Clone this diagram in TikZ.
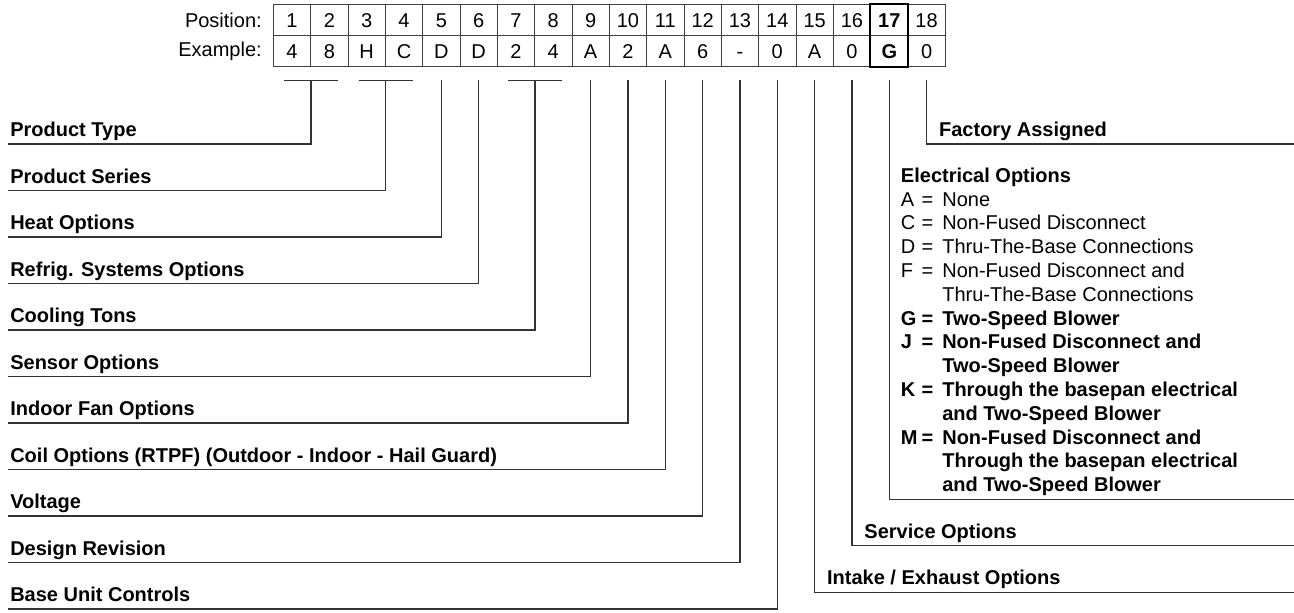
\documentclass[tikz,border=0pt]{standalone}
\usepackage{fontspec}
\setmainfont{Liberation Sans}
\usetikzlibrary{calc}
\newcommand{\codesize}{\fontsize{15pt}{17.85pt}\selectfont}
\begin{document}
\begin{tikzpicture}[x=0.75pt,y=-0.75pt,font=\codesize]
  \tikzstyle{cell}=[draw=black!75,line width=0.6pt,minimum width=28pt,minimum height=23.25pt,inner sep=0pt,text height=10.7pt,text depth=0pt]
  \tikzstyle{wire}=[draw=black!80,line width=0.9pt]
  \tikzstyle{lbl}=[anchor=south west,font=\codesize\bfseries,inner xsep=1.3pt,inner ysep=5.3pt,text depth=0pt]
  \tikzstyle{rlbl}=[lbl,inner xsep=9.2pt]
  \useasboundingbox (0,0) rectangle (1294,612);
  % model number table
  \node[anchor=east,inner xsep=0pt] (pos) at (262,20) {Position:};
  \node[anchor=east,inner xsep=0pt] (ex) at (262,51) {Example:};
  \foreach \c [count=\i] in {4,8,H,C,D,D,2,4,A,2,A,6,-,0,A,0,G,0} {
    \node[cell] (p\i) at (273.33+37.33*\i-18.67,20) {\ifnum\i=17\bfseries\fi\i};
    \node[cell] (e\i) at (273.33+37.33*\i-18.67,51) {\ifnum\i=17\bfseries\fi\c};
  }
  \draw[line width=1.6pt] (p17.north west) rectangle (e17.south east);
  % connector tops
  \foreach \i in {5,6,9,10,11,12,13,14,15,16,17,18}
    \coordinate (t\i) at ($(e\i.south)+(0,13.3)$);
  \coordinate (t2) at ($(e1.south east)+(0,13.3)$);
  \coordinate (t4) at ($(e3.south east)+(0,13.3)$);
  \coordinate (t8) at ($(e7.south east)+(0,13.3)$);
  \foreach \i in {2,4,8}
    \path[wire] ($(t\i)+(-27,0)$) -- ($(t\i)+(27,0)$);
  % left labels
  \node[lbl] (ptype) at (8.3,144) {Product Type};
  \node[lbl] (pseries) at (8.3,190.5) {Product Series};
  \node[lbl] (heat) at (8.3,237) {Heat Options};
  \node[lbl] (refrig) at (8.3,283.5) {Refrig. Systems Options};
  \node[lbl] (tons) at (8.3,330) {Cooling Tons};
  \node[lbl] (sensor) at (8.3,376.5) {Sensor Options};
  \node[lbl] (fan) at (8.3,423) {Indoor Fan Options};
  \node[lbl] (coil) at (8.3,469.5) {Coil Options (RTPF) (Outdoor - Indoor - Hail Guard)};
  \node[lbl] (volt) at (8.3,516) {Voltage};
  \node[lbl] (rev) at (8.3,562.5) {Design Revision};
  \node[lbl] (ctrl) at (8.3,609) {Base Unit Controls};
  \path[wire] (t2) |- (ptype.south west);
  \path[wire] (t4) |- (pseries.south west);
  \path[wire] (t5) |- (heat.south west);
  \path[wire] (t6) |- (refrig.south west);
  \path[wire] (t8) |- (tons.south west);
  \path[wire] (t9) |- (sensor.south west);
  \path[wire] (t10) |- (fan.south west);
  \path[wire] (t11) |- (coil.south west);
  \path[wire] (t12) |- (volt.south west);
  \path[wire] (t13) |- (rev.south west);
  \path[wire] (t14) |- (ctrl.south west);
  % right labels
  \coordinate (fend) at (1293.5,144);
  \coordinate (eend) at (1293.5,499.3);
  \coordinate (send) at (1293.5,545.8);
  \coordinate (iend) at (1293.5,592.3);
  \node[rlbl] (fact) at (t18 |- fend) {Factory Assigned};
  \node[rlbl] (serv) at (t16 |- send) {Service Options};
  \node[rlbl] (intake) at (t15 |- iend) {Intake / Exhaust Options};
  \node[anchor=base west,inner sep=0pt] (elec) at (900.7,182.3) {%
    \begin{tabular}[t]{@{}l@{\hspace{3pt}}l@{\hspace{6.75pt}}l@{}}
      \multicolumn{3}{@{}l@{}}{\bfseries Electrical Options}\\
      A & = & None\\
      C & = & Non-Fused Disconnect\\
      D & = & Thru-The-Base Connections\\
      F & = & Non-Fused Disconnect and\\
        &   & Thru-The-Base Connections\\
      \bfseries G & \bfseries = & \bfseries Two-Speed Blower\\
      \bfseries J & \bfseries = & \bfseries Non-Fused Disconnect and\\
        &   & \bfseries Two-Speed Blower\\
      \bfseries K & \bfseries = & \bfseries Through the basepan electrical\\
        &   & \bfseries and Two-Speed Blower\\
      \bfseries M & \bfseries = & \bfseries Non-Fused Disconnect and\\
        &   & \bfseries Through the basepan electrical\\
        &   & \bfseries and Two-Speed Blower
    \end{tabular}};
  \path[wire] (t18) |- (fend);
  \path[wire] (t17) |- (eend);
  \path[wire] (t16) |- (send);
  \path[wire] (t15) |- (iend);
\end{tikzpicture}
\end{document}
